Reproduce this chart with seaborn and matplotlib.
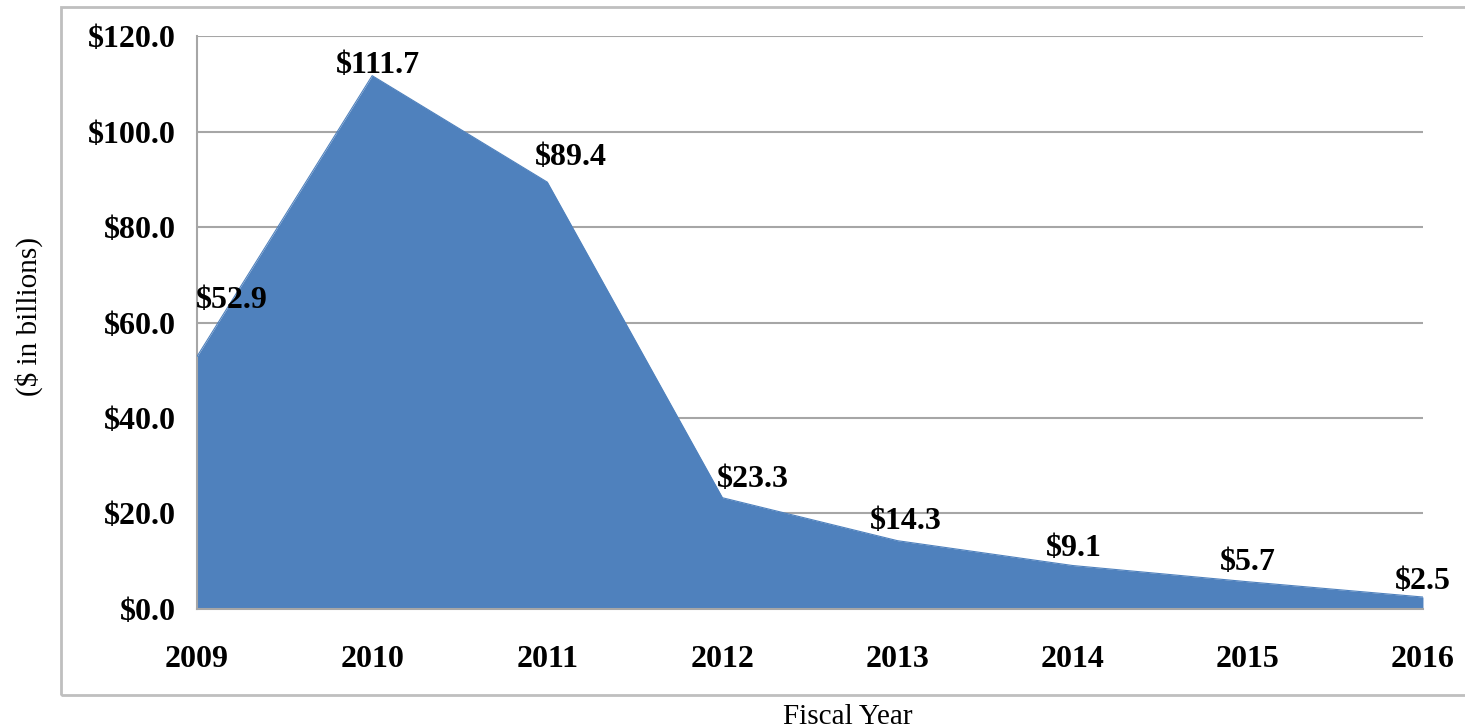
import matplotlib
matplotlib.use("Agg")
import matplotlib.pyplot as plt
import seaborn as sns
import pandas as pd
from matplotlib.patches import Rectangle

years = [2009, 2010, 2011, 2012, 2013, 2014, 2015, 2016]
amounts = [52.9, 111.7, 89.4, 23.3, 14.3, 9.1, 5.7, 2.5]
labels = ["$52.9", "$111.7", "$89.4", "$23.3", "$14.3", "$9.1", "$5.7", "$2.5"]
y_ticks = [0, 20, 40, 60, 80, 100, 120]
y_ticklabels = ["$0.0", "$20.0", "$40.0", "$60.0", "$80.0", "$100.0", "$120.0"]

# label offsets in points (dx, dy), as placed in the reference
label_offsets = [(25, 40), (4, 7), (17, 18), (22, 13), (6, 14), (1, 12), (0, 14), (0, 11)]

df = pd.DataFrame({"year": years, "amount": amounts})

sns.set_style("white")
plt.rcParams["font.family"] = ["Liberation Serif", "DejaVu Serif"]

blue = "#4F81BD"
grey = "#A6A6A6"

fig = plt.figure(figsize=(14.65, 7.28), dpi=100)
ax = fig.add_axes([0.1345, 0.1635, 0.9713 - 0.1345, 0.9505 - 0.1635])

ax.fill_between(df["year"], 0, df["amount"], color=blue, linewidth=0, zorder=2)
sns.lineplot(data=df, x="year", y="amount", color=blue, linewidth=0.8, ax=ax, zorder=3)

ax.set_xlim(2009, 2016)
ax.set_ylim(0, 120)
ax.set_yticks(y_ticks)
ax.set_yticklabels(y_ticklabels, fontsize=23, fontweight="bold", color="black")
ax.set_xticks(years)
ax.set_xticklabels([str(y) for y in years], fontsize=23, fontweight="bold", color="black")
ax.yaxis.grid(True, color=grey, linewidth=1.5, zorder=0)
ax.set_axisbelow(True)

for side in ["top", "right"]:
    ax.spines[side].set_visible(False)
for side in ["left", "bottom"]:
    ax.spines[side].set_color(grey)
    ax.spines[side].set_linewidth(1.5)

ax.tick_params(axis="both", direction="out", length=7, width=1.5, color=grey)
ax.tick_params(axis="y", pad=8)
ax.tick_params(axis="x", pad=19)

ax.set_xlabel("")
ax.set_ylabel("")

for x, y, txt, (dx, dy) in zip(years, amounts, labels, label_offsets):
    ax.annotate(txt, xy=(x, y), xytext=(dx, dy), textcoords="offset points",
                ha="center", va="center", fontsize=23, fontweight="bold",
                color="black", zorder=5, annotation_clip=False)

fig.text(29 / 1465, 1 - 316 / 728, "($ in billions)", rotation=90, ha="center", va="center",
         fontsize=21, color="black")
fig.text(848 / 1465, 1 - 717 / 728, "Fiscal Year", ha="center", va="center",
         fontsize=21, color="black")

fig.patches.append(Rectangle((61 / 1465, 1 - 695 / 728), 1.0, (695 - 7) / 728,
                             transform=fig.transFigure, fill=False,
                             edgecolor="#BFBFBF", linewidth=2))

fig.savefig("out.png", dpi=100)
